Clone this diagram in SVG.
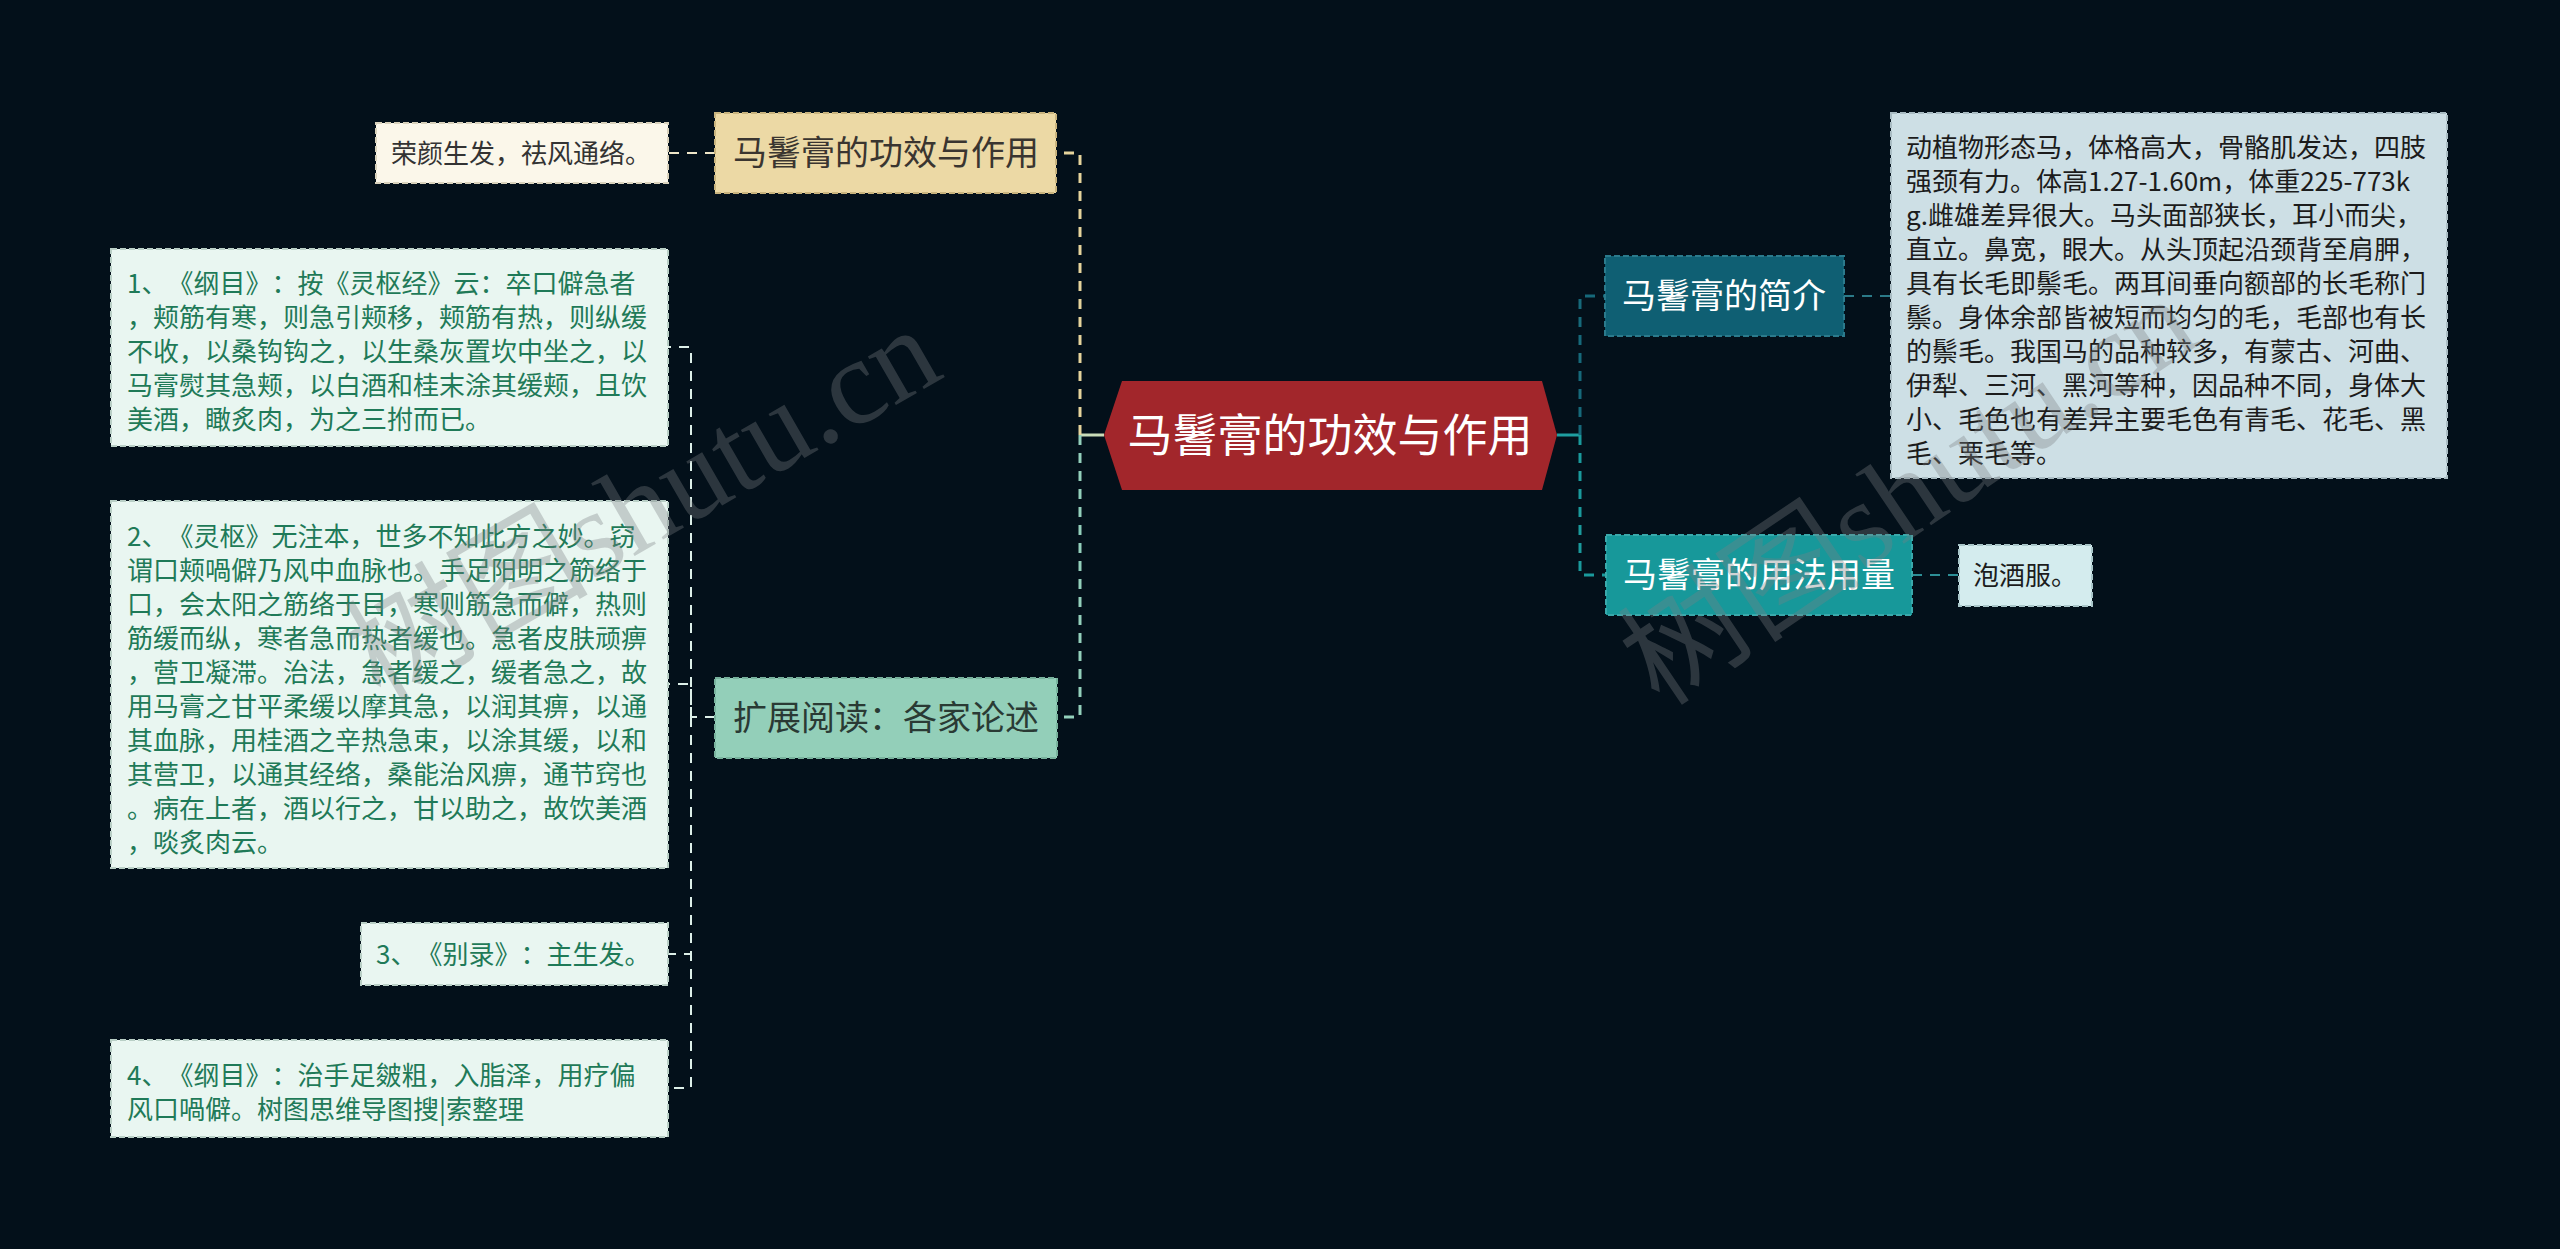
<svg xmlns="http://www.w3.org/2000/svg" width="2560" height="1249" viewBox="0 0 2560 1249">
<style>
.cjk{font-family:"Noto Sans CJK SC","Noto Sans",sans-serif;text-spacing-trim:space-all}
.t26{font-size:26px}
.t34{font-size:34px}
.green{fill:#1f7a58}
.dark{fill:#1c1c1c}
.box{stroke-width:2;stroke-dasharray:6 3}
.main{fill:none;stroke-width:3;stroke-dasharray:10 8}
.sub{fill:none;stroke-width:2;stroke-dasharray:10 8}
.wm{font-family:"Liberation Serif","Noto Sans CJK SC",serif;font-size:122px;fill:#7c8084;opacity:0.34}
</style>
<rect x="0" y="0" width="2560" height="1249" fill="#03101a"/>

<g id="connectors">
  <path d="M1104,435 H1080" fill="none" stroke="#c9dcb8" stroke-width="3"/>
  <path class="main" d="M1080,435 V153 H1056" stroke="#e6d49c"/>
  <path class="main" d="M1080,435 V717 H1057" stroke="#93d0bb"/>
  <path class="sub" d="M715,153 H668" stroke="#efe6c8"/>
  <path class="sub" d="M715,717 H691 V347 H668" stroke="#dcefe8"/>
  <path class="sub" d="M691,717 V684 H668" stroke="#dcefe8"/>
  <path class="sub" d="M691,717 V954 H668" stroke="#dcefe8"/>
  <path class="sub" d="M691,717 V1088 H668" stroke="#dcefe8"/>
  <path d="M1557,435 H1580" fill="none" stroke="#1e9ea0" stroke-width="3"/>
  <path class="main" d="M1580,435 V296 H1605" stroke="#16697a"/>
  <path class="main" d="M1580,435 V575 H1606" stroke="#1a9a9c"/>
  <path class="sub" d="M1844,296 H1891" stroke="#2b7a88"/>
  <path class="sub" d="M1912,575 H1959" stroke="#2d8f96"/>
</g>

<g id="root">
  <polygon points="1104,435 1122,381 1542,381 1557,435 1542,490 1122,490" fill="#a2262b"/>
  <text class="cjk" x="1330" y="452" font-size="45" fill="#ffffff" text-anchor="middle">马鬐膏的功效与作用</text>
</g>

<g id="n-effect">
  <rect class="box" x="715" y="113" width="341" height="80" fill="#ecd9a5" stroke="#c9b47e"/>
  <text class="cjk t34" x="886" y="165" fill="#3a3530" text-anchor="middle">马鬐膏的功效与作用</text>
</g>
<g id="n-effect-1">
  <rect class="box" x="376" y="123" width="292" height="60" fill="#fbf7ea" stroke="#d9d2bc"/>
  <text class="cjk t26" x="391" y="163" fill="#333333">荣颜生发，祛风通络。</text>
</g>

<g id="n-reading">
  <rect class="box" x="715" y="678" width="342" height="80" fill="#93cfb9" stroke="#78b29d"/>
  <text class="cjk t34" x="886" y="730" fill="#2a3a34" text-anchor="middle">扩展阅读：各家论述</text>
</g>
<g id="n-reading-1">
  <rect class="box" x="111" y="249" width="557" height="197" fill="#e9f6f1" stroke="#b9cfc6"/>
  <text class="cjk t26 green">
    <tspan x="127" y="293">1、《纲目》：按《灵枢经》云：卒口僻急者</tspan>
    <tspan x="127" y="327">，颊筋有寒，则急引颊移，颊筋有热，则纵缓</tspan>
    <tspan x="127" y="361">不收，以桑钩钩之，以生桑灰置坎中坐之，以</tspan>
    <tspan x="127" y="395">马膏熨其急颊，以白酒和桂末涂其缓颊，且饮</tspan>
    <tspan x="127" y="429">美酒，瞰炙肉，为之三拊而已。</tspan>
  </text>
</g>
<g id="n-reading-2">
  <rect class="box" x="111" y="501" width="557" height="367" fill="#e9f6f1" stroke="#b9cfc6"/>
  <text class="cjk t26 green">
    <tspan x="127" y="546">2、《灵枢》无注本，世多不知此方之妙。窃</tspan>
    <tspan x="127" y="580">谓口颊喎僻乃风中血脉也。手足阳明之筋络于</tspan>
    <tspan x="127" y="614">口，会太阳之筋络于目，寒则筋急而僻，热则</tspan>
    <tspan x="127" y="648">筋缓而纵，寒者急而热者缓也。急者皮肤顽痹</tspan>
    <tspan x="127" y="682">，营卫凝滞。治法，急者缓之，缓者急之，故</tspan>
    <tspan x="127" y="716">用马膏之甘平柔缓以摩其急，以润其痹，以通</tspan>
    <tspan x="127" y="750">其血脉，用桂酒之辛热急束，以涂其缓，以和</tspan>
    <tspan x="127" y="784">其营卫，以通其经络，桑能治风痹，通节窍也</tspan>
    <tspan x="127" y="818">。病在上者，酒以行之，甘以助之，故饮美酒</tspan>
    <tspan x="127" y="852">，啖炙肉云。</tspan>
  </text>
</g>
<g id="n-reading-3">
  <rect class="box" x="361" y="923" width="307" height="62" fill="#e9f6f1" stroke="#b9cfc6"/>
  <text class="cjk t26 green" x="376" y="964">3、《别录》：主生发。</text>
</g>
<g id="n-reading-4">
  <rect class="box" x="111" y="1040" width="557" height="97" fill="#e9f6f1" stroke="#b9cfc6"/>
  <text class="cjk t26 green">
    <tspan x="127" y="1085">4、《纲目》：治手足皴粗，入脂泽，用疗偏</tspan>
    <tspan x="127" y="1119">风口喎僻。树图思维导图搜|索整理</tspan>
  </text>
</g>

<g id="n-intro">
  <rect class="box" x="1605" y="256" width="239" height="80" fill="#0f5f73" stroke="#2b7a8c"/>
  <text class="cjk t34" x="1724" y="308" fill="#ffffff" text-anchor="middle">马鬐膏的简介</text>
</g>
<g id="n-intro-1">
  <rect class="box" x="1891" y="113" width="556" height="365" fill="#cddfe5" stroke="#a9bcc3"/>
  <text class="cjk t26 dark">
    <tspan x="1906" y="157">动植物形态马，体格高大，骨骼肌发达，四肢</tspan>
    <tspan x="1906" y="191">强颈有力。体高1.27-1.60m，体重225-773k</tspan>
    <tspan x="1906" y="225">g.雌雄差异很大。马头面部狭长，耳小而尖，</tspan>
    <tspan x="1906" y="259">直立。鼻宽，眼大。从头顶起沿颈背至肩胛，</tspan>
    <tspan x="1906" y="293">具有长毛即鬃毛。两耳间垂向额部的长毛称门</tspan>
    <tspan x="1906" y="327">鬃。身体余部皆被短而均匀的毛，毛部也有长</tspan>
    <tspan x="1906" y="361">的鬃毛。我国马的品种较多，有蒙古、河曲、</tspan>
    <tspan x="1906" y="395">伊犁、三河、黑河等种，因品种不同，身体大</tspan>
    <tspan x="1906" y="429">小、毛色也有差异主要毛色有青毛、花毛、黑</tspan>
    <tspan x="1906" y="463">毛、栗毛等。</tspan>
  </text>
</g>

<g id="n-usage">
  <rect class="box" x="1606" y="535" width="306" height="80" fill="#17989a" stroke="#3aa9ab"/>
  <text class="cjk t34" x="1759" y="587" fill="#ffffff" text-anchor="middle">马鬐膏的用法用量</text>
</g>
<g id="n-usage-1">
  <rect class="box" x="1959" y="545" width="133" height="61" fill="#d4ecee" stroke="#a9c6c9"/>
  <text class="cjk t26 dark" x="1973" y="585">泡酒服。</text>
</g>

<g id="watermark">
  <text class="wm" transform="translate(380,703) rotate(-30)">树图shutu.cn</text>
  <text class="wm" transform="translate(1660,708) rotate(-34)">树图shutu.cn</text>
</g>
</svg>
